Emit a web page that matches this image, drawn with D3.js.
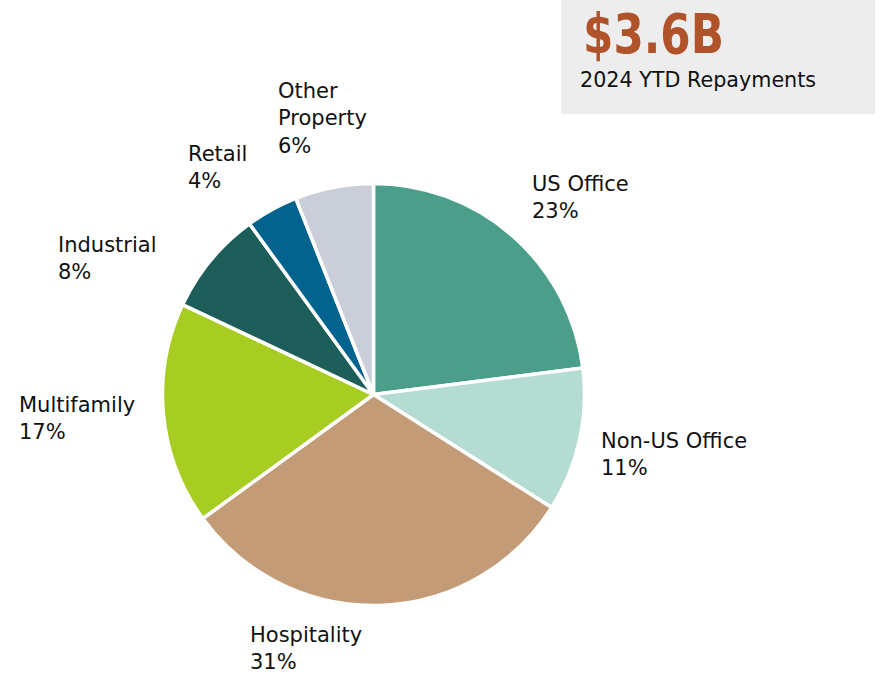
<!DOCTYPE html>
<html>
<head>
<meta charset="utf-8">
<script src="https://cdn.jsdelivr.net/npm/d3@7"></script>
<style>
  html, body { margin: 0; padding: 0; background: #ffffff; }
  svg { display: block; font-family: "DejaVu Sans", sans-serif; }
</style>
</head>
<body>
<svg id="chart" width="879" height="675"></svg>
<script>
// ---- data ----
const categories = ["US Office", "Non-US Office", "Hospitality", "Multifamily", "Industrial", "Retail", "Other Property"];
const shares = [23, 11, 31, 17, 8, 4, 6];
const labelLines = [["US Office"], ["Non-US Office"], ["Hospitality"], ["Multifamily"], ["Industrial"], ["Retail"], ["Other", "Property"]];
const colors = ["#4A9E8A", "#B4DCD2", "#C39B77", "#A7CD23", "#1E5E5A", "#02638F", "#C9CED8"];
const headlineValue = "$3.6B";
const headlineCaption = "2024 YTD Repayments";

// ---- layout (label anchor positions, first baseline) ----
const labelLayout = [
  [532, 191], [601, 448], [250, 642], [19, 412], [58, 252], [188, 161], [278, 98]
];
const lineGap = 27.3;

const svg = d3.select("#chart");
const cx = 373.5, cy = 394.5, r = 211;

const pie = d3.pie().sort(null).value(d => d)(shares);
const arc = d3.arc().innerRadius(0).outerRadius(r);

const g = svg.append("g").attr("transform", `translate(${cx},${cy})`);
g.selectAll("path")
  .data(pie)
  .join("path")
  .attr("d", arc)
  .attr("fill", (d, i) => colors[i])
  .attr("stroke", "#ffffff")
  .attr("stroke-width", 3.5)
  .attr("stroke-linejoin", "round");

// labels
const lbl = svg.append("g").attr("font-size", 21).attr("fill", "#111111");
categories.forEach((c, i) => {
  const [x, y] = labelLayout[i];
  const lines = labelLines[i].concat([shares[i] + "%"]);
  const t = lbl.append("text").attr("x", x).attr("y", y);
  lines.forEach((ln, k) => {
    t.append("tspan").attr("x", x).attr("y", y + k * lineGap).text(ln);
  });
});

// headline box
svg.append("rect").attr("x", 561).attr("y", 0).attr("width", 314).attr("height", 114).attr("fill", "#EDEDED");
svg.append("text").attr("x", 583).attr("y", 53).attr("font-size", 56).attr("font-weight", "bold")
  .attr("fill", "#B0522A").attr("textLength", 141).attr("lengthAdjust", "spacingAndGlyphs").text(headlineValue);
svg.append("text").attr("x", 580).attr("y", 87).attr("font-size", 20.7).attr("fill", "#111111").text(headlineCaption);
</script>
</body>
</html>
